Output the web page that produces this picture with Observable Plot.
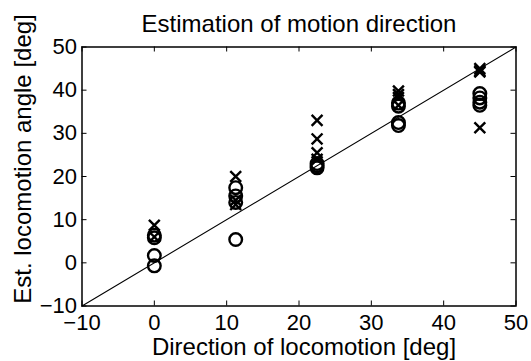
<!DOCTYPE html>
<html>
<head>
<meta charset="utf-8">
<script src="https://cdn.jsdelivr.net/npm/d3@7"></script>
<script src="https://cdn.jsdelivr.net/npm/@observablehq/plot@0.6"></script>
<style>
  html, body { margin: 0; padding: 0; background: #fff; }
  svg { display: block; }
</style>
</head>
<body>
<div id="chart"></div>
<script>
// Directions of locomotion (x positions of the columns)
const directions = [0, 11.25, 22.5, 33.75, 45];
// Estimated angles, circle markers (one list per direction)
const circleValues = [
  [6.4, 5.8, 1.7, -0.7],
  [17.4, 15.5, 14.0, 5.4],
  [23.0, 22.5, 22.0],
  [37.0, 36.3, 32.5, 31.8],
  [39.2, 38.2, 37.2, 36.5]
];
// Estimated angles, cross markers
const crossValues = [
  [8.7, 6.0],
  [20.0, 14.5, 13.5],
  [33.0, 28.7, 25.5, 24.0],
  [39.8, 39.0, 38.3, 36.5],
  [45.0, 44.5, 44.2, 31.3]
];
const xTicks = [-10, 0, 10, 20, 30, 40, 50];
const yTicks = [-10, 0, 10, 20, 30, 40, 50];
const identityLine = [-10, 50];
const titleText = "Estimation of motion direction";
const xLabel = "Direction of locomotion [deg]";
const yLabel = "Est. locomotion angle [deg]";

const circles = directions.flatMap((d, i) => circleValues[i].map(v => ({x: d, y: v})));
const crosses = directions.flatMap((d, i) => crossValues[i].map(v => ({x: d, y: v})));

const W = 531, H = 361;
const M = {top: 46.5, right: 15.5, bottom: 55.5, left: 81.5};
const plotH = H - M.top - M.bottom;
const plotW = W - M.left - M.right;
const font = "'Liberation Sans', Arial, Helvetica, sans-serif";

const chart = Plot.plot({
  width: W,
  height: H,
  marginTop: M.top,
  marginRight: M.right,
  marginBottom: M.bottom,
  marginLeft: M.left,
  style: {fontFamily: font, fontSize: "22px", color: "#000", background: "#fff", overflow: "visible"},
  x: {domain: [-10, 50], ticks: xTicks},
  y: {domain: [-10, 50], ticks: yTicks},
  marks: [
    Plot.line(identityLine, {x: d => d, y: d => d, stroke: "#000", strokeWidth: 1.1}),
    Plot.dot(circles, {x: "x", y: "y", symbol: "circle", r: 6.3, stroke: "#000", strokeWidth: 2.4, fill: "none"}),
    Plot.dot(crosses, {x: "x", y: "y", symbol: "times", r: 5, stroke: "#000", strokeWidth: 2.4}),
    // inward ticks on all four sides
    Plot.ruleX(xTicks, {x: d => d, insetTop: plotH - 5, stroke: "#000", strokeWidth: 1}),
    Plot.ruleX(xTicks, {x: d => d, insetBottom: plotH - 5, stroke: "#000", strokeWidth: 1}),
    Plot.ruleY(yTicks, {y: d => d, insetRight: plotW - 5, stroke: "#000", strokeWidth: 1}),
    Plot.ruleY(yTicks, {y: d => d, insetLeft: plotW - 5, stroke: "#000", strokeWidth: 1}),
    Plot.axisX(xTicks, {anchor: "bottom", tickSize: 0, tickPadding: 8.5, fontSize: 22, label: null}),
    Plot.axisY(yTicks, {anchor: "left", tickSize: 0, tickPadding: 5, fontSize: 22, label: null}),
    Plot.frame({stroke: "#000", strokeWidth: 1.5}),
    Plot.text([titleText], {frameAnchor: "top", textAnchor: "middle", lineAnchor: "middle", dy: -22.5, fontSize: 24, fill: "#000"}),
    Plot.text([xLabel], {frameAnchor: "bottom", textAnchor: "middle", lineAnchor: "middle", dy: 41.8, dx: 5, fontSize: 24, fill: "#000"}),
    Plot.text([yLabel], {frameAnchor: "left", textAnchor: "middle", lineAnchor: "middle", rotate: -90, dx: -59, dy: -17.5, fontSize: 24, fill: "#000"})
  ]
});
document.getElementById("chart").appendChild(chart);
</script>
</body>
</html>
